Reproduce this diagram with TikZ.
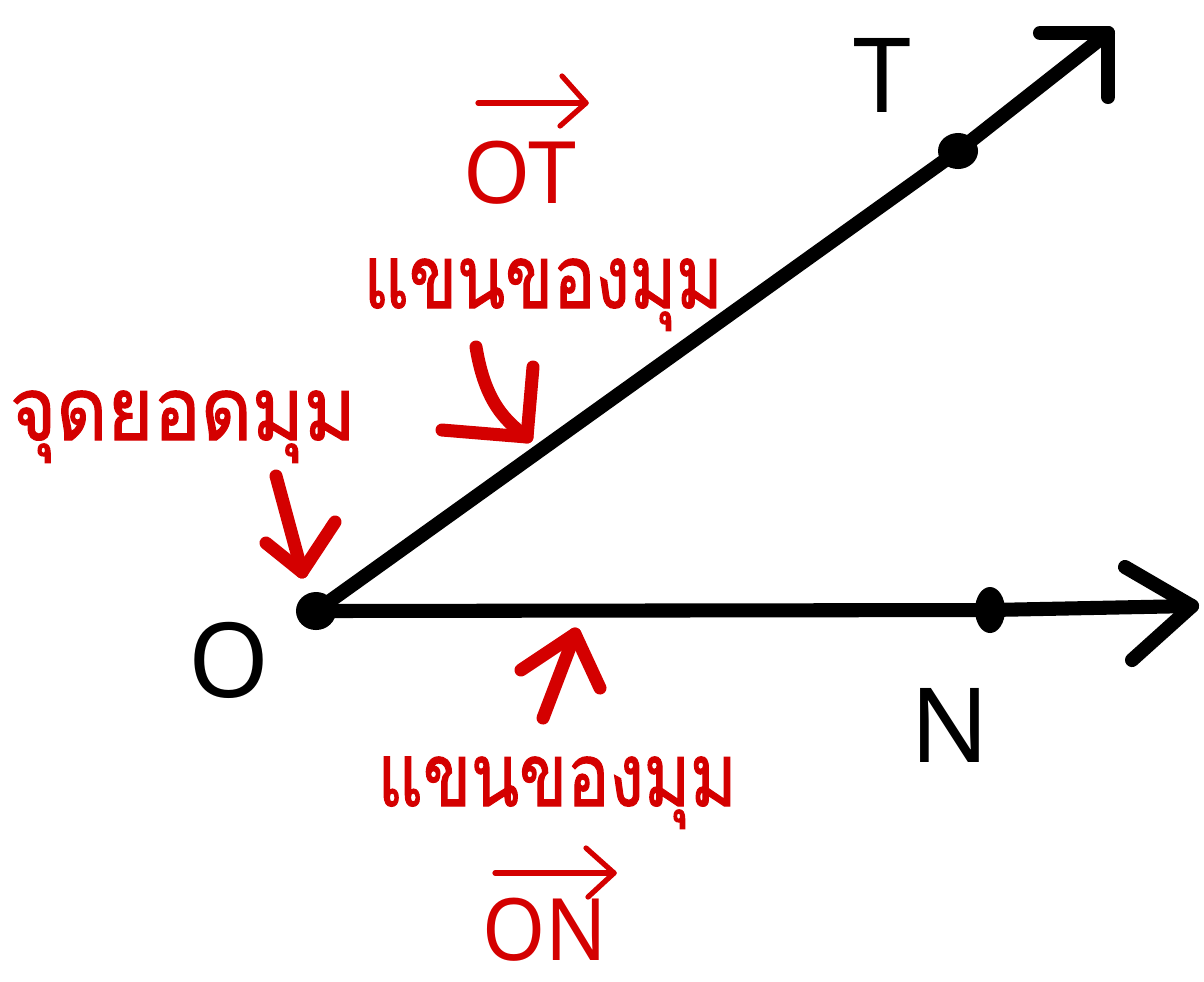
\documentclass[tikz,border=0pt]{standalone}
\usepackage{fontspec}
\newfontfamily\thaifont[Script=Thai, FakeStretch=0.8, FakeBold=1.2]{Loma}
\newfontfamily\latinfont{Noto Sans}
\definecolor{armred}{HTML}{D40000}
\usetikzlibrary{positioning, shapes.geometric}

\begin{document}
\begin{tikzpicture}[
    x=0.01cm, y=-0.01cm,
    pointdot/.style={ellipse, fill=black, inner sep=0pt},
    ray/.style={line width=4pt, line cap=round, line join=round},
    pointer/.style={armred, line width=3.7pt, line cap=round, line join=round},
    over/.style={armred, line width=1.5pt, line cap=round, line join=round},
    ptlabel/.style={font=\latinfont\fontsize{29.5}{30}\selectfont, inner sep=0pt},
    vec/.style={armred, font=\latinfont\fontsize{24.5}{25}\selectfont, inner sep=0pt},
    thai/.style={armred, font=\thaifont\fontsize{25}{28}\selectfont, inner sep=0pt, anchor=base}
]
\useasboundingbox (0,0) rectangle (1204,981);

% points on the angle
\node[pointdot, minimum width=0.40cm, minimum height=0.38cm] (O) at (316,611) {};
\node[pointdot, minimum width=0.40cm, minimum height=0.36cm] (T) at (958,151) {};
\node[pointdot, minimum width=0.30cm, minimum height=0.46cm] (N) at (990,610) {};
\coordinate (Ttip) at (1108,33);
\coordinate (Ntip) at (1192,606);

% the two rays
\draw[ray] (O.center) -- (T.center) -- (Ttip);
\draw[ray] ([shift={(-68,0)}]Ttip) -- (Ttip) -- ([shift={(0,64)}]Ttip);
\draw[ray] (O.center) -- (N.center) -- (Ntip);
\draw[ray] ([shift={(-67,-39)}]Ntip) -- (Ntip) -- ([shift={(-60,54)}]Ntip);

% letters
\node[ptlabel] (lT) at (882,75) {T};
\node[ptlabel] (lO) at (229,660) {O};
\node[ptlabel] (lN) at (950,725) {N};

% red labels
\node[vec] (OT) at (520,173) {OT};
\draw[over] (478,103) -- (586,103);
\draw[over] (562,76) -- (586,103) -- (560,126);
\node[thai] (armT) at (543,308) {แขนของมุม};
\node[thai, xscale=1.12] (vertex) at (183,440) {จุดยอดมุม};
\node[thai] (armN) at (557,806) {แขนของมุม};
\node[vec, xscale=0.94] (ON) at (545,930) {ON};
\draw[over] (495,873) -- (614,873);
\draw[over] (586,848) -- (614,873) -- (588,897);

% red pointers
\coordinate (vtail) at (276,476);
\coordinate (vhead) at (302,572);
\draw[pointer] (vtail) -- (vhead);
\draw[pointer] ([shift={(-36,-29)}]vhead) -- (vhead) -- ([shift={(33,-50)}]vhead);
\coordinate (utail) at (476,347);
\coordinate (uhead) at (527,437);
\draw[pointer] (utail) .. controls (484,395) and (500,418) .. (uhead);
\draw[pointer] ([shift={(-85,-7)}]uhead) -- (uhead) -- ([shift={(6,-70)}]uhead);
\coordinate (ltail) at (543,718);
\coordinate (lhead) at (575,634);
\draw[pointer] (ltail) -- (lhead);
\draw[pointer] ([shift={(-54,36)}]lhead) -- (lhead) -- ([shift={(25,54)}]lhead);
\end{tikzpicture}
\end{document}
